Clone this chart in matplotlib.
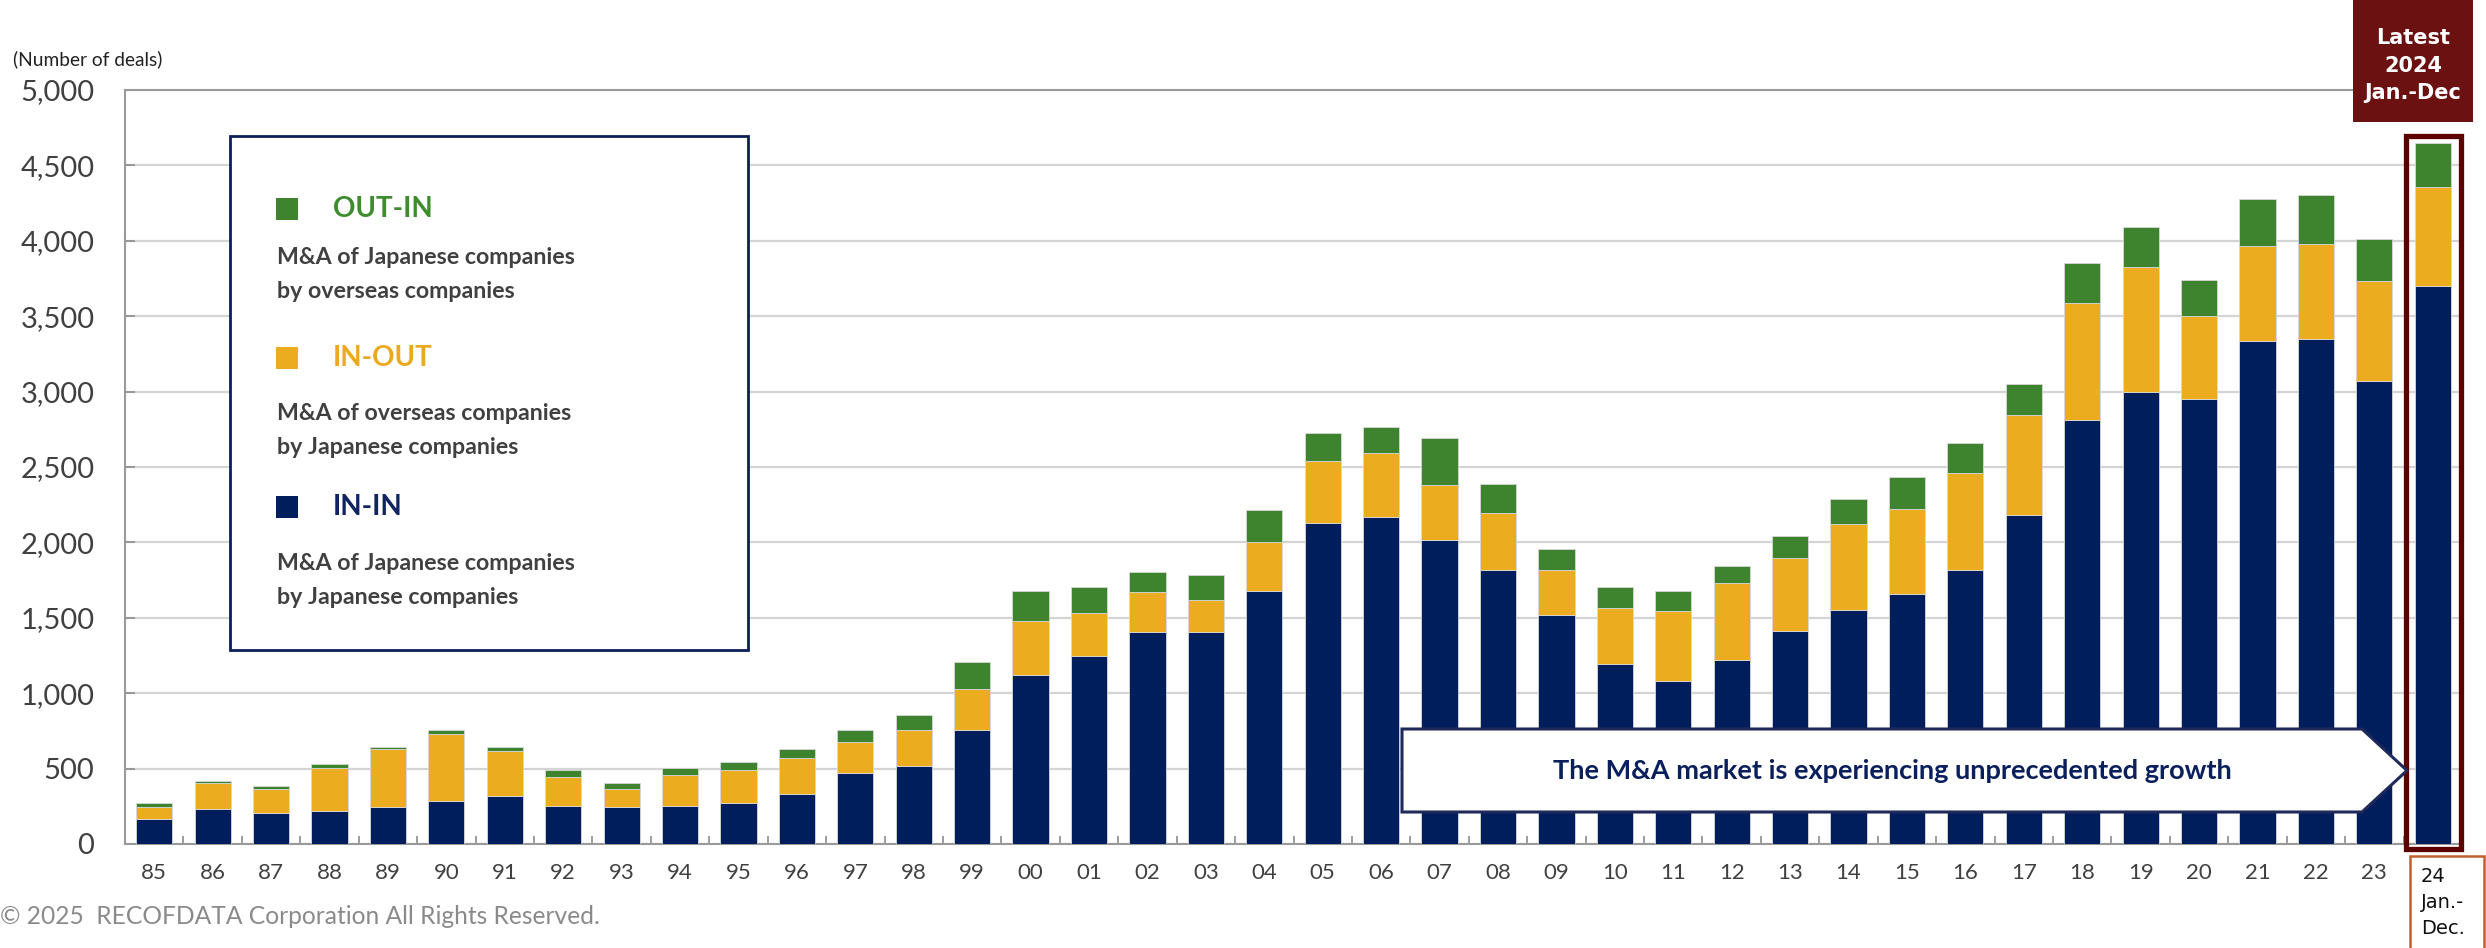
import numpy as np
import matplotlib.pyplot as plt
from matplotlib.patches import Rectangle, Polygon
from matplotlib.ticker import FuncFormatter

W, H = 2486, 948

# fiscal years (85 = 1985 ... 24 = 2024 Jan.-Dec.)
years = ['85', '86', '87', '88', '89', '90', '91', '92', '93', '94',
         '95', '96', '97', '98', '99', '00', '01', '02', '03', '04',
         '05', '06', '07', '08', '09', '10', '11', '12', '13', '14',
         '15', '16', '17', '18', '19', '20', '21', '22', '23', '24']

# number of deals
in_in = [165, 229, 205, 218, 243, 282, 318, 254, 243, 254,
         269, 331, 468, 518, 754, 1119, 1245, 1406, 1406, 1680,
         2130, 2167, 2017, 1819, 1516, 1192, 1079, 1220, 1410, 1555,
         1657, 1819, 2183, 2810, 2999, 2950, 3338, 3351, 3072, 3700]
in_out = [78, 177, 163, 289, 390, 448, 297, 189, 125, 203,
          223, 238, 211, 236, 276, 362, 285, 263, 212, 324,
          412, 426, 362, 373, 300, 375, 464, 511, 485, 566,
          564, 641, 665, 779, 829, 552, 628, 628, 662, 660]
out_in = [26, 11, 14, 22, 11, 24, 29, 49, 36, 48,
          51, 62, 75, 102, 174, 199, 176, 136, 163, 214,
          186, 174, 311, 198, 137, 137, 137, 113, 150, 164,
          212, 200, 200, 261, 262, 237, 312, 324, 276, 290]

x_labels = years[:-1] + ['']

navy = '#001E5B'
gold = '#EBAC20'
green = '#3E842E'
txt_gray = '#404040'

plt.rcParams['font.family'] = ['Lato', 'DejaVu Sans']

fig = plt.figure(figsize=(W / 100, H / 100), dpi=100)


def fx(px):
    return px / W


def fy(py):
    return 1 - py / H


ax = fig.add_axes([fx(125), fy(844), fx(2462) - fx(125), fy(90) - fy(844)])
x = np.arange(len(years))
bw = 0.62
ax.bar(x, in_in, bw, color=navy, edgecolor='#d8d8d8', linewidth=0.6, zorder=3)
ax.bar(x, in_out, bw, bottom=in_in, color=gold, edgecolor='#d8d8d8', linewidth=0.6, zorder=3)
cum = np.array(in_in) + np.array(in_out)
ax.bar(x, out_in, bw, bottom=cum, color=green, edgecolor='#d8d8d8', linewidth=0.6, zorder=3)

ax.set_xlim(-0.5, 39.5)
ax.set_ylim(0, 5000)
ax.set_yticks(range(0, 5001, 500))
ax.yaxis.set_major_formatter(FuncFormatter(lambda v, p: f'{int(v):,}'))
ax.tick_params(axis='y', direction='in', length=7, width=1.2, color='#8c8c8c',
               pad=22, labelsize=21, labelcolor=txt_gray)
ax.set_xticks(x)
ax.set_xticklabels(x_labels)
ax.set_xticks(x[:-1] + 0.5, minor=True)
ax.tick_params(axis='x', which='major', length=0, pad=14, labelsize=16, labelcolor=txt_gray)
ax.tick_params(axis='x', which='minor', direction='in', length=6, width=1.2, color='#8c8c8c')
ax.grid(axis='y', color='#d4d4d4', linewidth=1.6, zorder=0)
ax.set_axisbelow(True)
for s in ['left', 'bottom', 'top']:
    ax.spines[s].set_color('#9a9a9a')
    ax.spines[s].set_linewidth(1.5)
ax.spines['right'].set_visible(False)

# highlight around the latest bar
ax.add_patch(Rectangle((38.54, -30), 0.94, 4725, fill=False, edgecolor='#5C0000',
                       linewidth=3.8, clip_on=False, zorder=6))

fig.text(fx(13), fy(59), '(Number of deals)', fontsize=13.8, color='#222222', va='center')

# legend box
fig.add_artist(Rectangle((fx(230), fy(650)), fx(748) - fx(230), fy(136) - fy(650),
                         transform=fig.transFigure, facecolor='white',
                         edgecolor='#0B1F5C', linewidth=2, zorder=5))
leg = [(green, 'OUT-IN', 209, ['M&A of Japanese companies', 'by overseas companies'], 258),
       (gold, 'IN-OUT', 358, ['M&A of overseas companies', 'by Japanese companies'], 414),
       (navy, 'IN-IN', 507, ['M&A of Japanese companies', 'by Japanese companies'], 564)]
for col, name, yc, lines, yd in leg:
    fig.add_artist(Rectangle((fx(276), fy(yc + 11)), fx(22), 22 / H,
                             transform=fig.transFigure, facecolor=col,
                             edgecolor='none', zorder=6))
    lbl_col = '#EBA91F' if col == gold else ('#0F2461' if col == navy else '#3E8C2D')
    fig.text(fx(333), fy(yc), name, fontsize=20, fontweight='bold', color=lbl_col,
             va='center', zorder=7)
    fig.text(fx(277), fy(yd), lines[0], fontsize=16.7, fontweight='bold',
             color=txt_gray, va='center', zorder=7)
    fig.text(fx(277), fy(yd + 33), lines[1], fontsize=16.7, fontweight='bold',
             color=txt_gray, va='center', zorder=7)

# arrow banner
banner = [(1402, 729), (2362, 729), (2407, 770.5), (2362, 812), (1402, 812)]
fig.add_artist(Polygon([(fx(a), fy(b)) for a, b in banner], closed=True,
                       transform=fig.transFigure, facecolor='white',
                       edgecolor='#1F2A5A', linewidth=2.2, zorder=5))
fig.text(fx(1892), fy(771), 'The M&A market is experiencing unprecedented growth',
         fontsize=19.5, fontweight='bold', color='#0A1F5C', ha='center', va='center', zorder=7)

# "Latest" box
fig.add_artist(Rectangle((fx(2353), fy(122)), fx(120), 122 / H,
                         transform=fig.transFigure, facecolor='#6B1111',
                         edgecolor='none', zorder=5))
for t, yy in [('Latest', 38), ('2024', 66), ('Jan.-Dec', 93)]:
    fig.text(fx(2413), fy(yy), t, fontsize=15, fontweight='bold', color='white',
             ha='center', va='center', family='DejaVu Sans', zorder=7)

# label box for the latest bar
fig.add_artist(Rectangle((fx(2410), fy(952)), fx(74), 96 / H,
                         transform=fig.transFigure, facecolor='white',
                         edgecolor='#C0602F', linewidth=1.8, zorder=5))
for t, yy in [('24', 877), ('Jan.-', 903), ('Dec.', 929)]:
    fig.text(fx(2421), fy(yy), t, fontsize=14, color='#111111', va='center',
             family='DejaVu Sans', zorder=7)

fig.text(fx(0), fy(916), '\u00a9 2025  RECOFDATA Corporation All Rights Reserved.',
         fontsize=17.7, color='#8a8a8a', va='center')

fig.savefig('out.png', dpi=100)
